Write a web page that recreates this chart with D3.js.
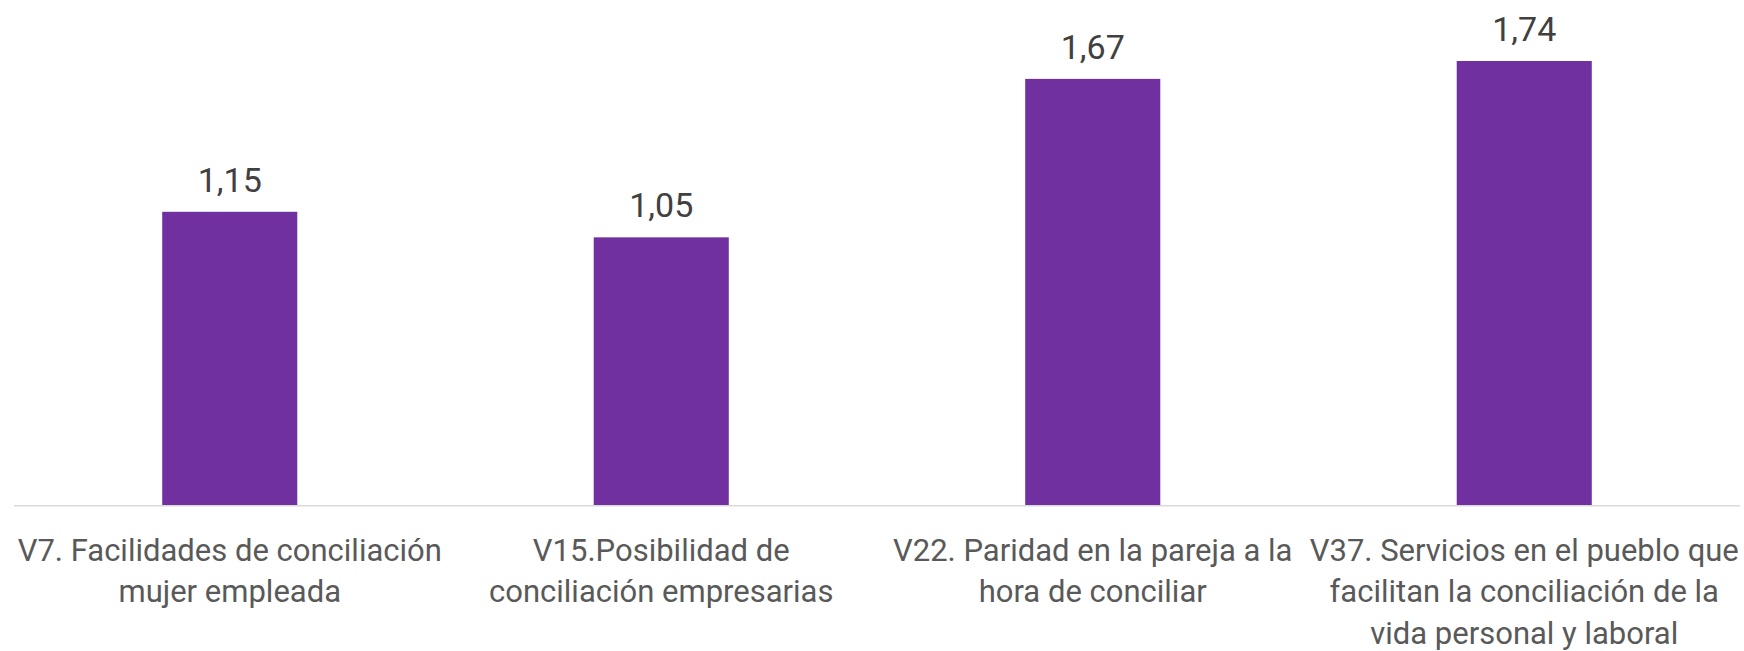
<!DOCTYPE html>
<html><head><meta charset="utf-8">
<script src="https://cdn.jsdelivr.net/npm/d3@7"></script>
<style>body{margin:0;background:#fff;}svg{display:block;}</style>
</head><body>
<svg id="chart" width="1744" height="651"></svg>
<script>
const categories = [
  "V7. Facilidades de conciliación\nmujer empleada",
  "V15.Posibilidad de\nconciliación empresarias",
  "V22. Paridad en la pareja a la\nhora de conciliar",
  "V37. Servicios en el pueblo que\nfacilitan la conciliación de la\nvida personal y laboral"
];
const values = [1.15, 1.05, 1.67, 1.74];
const valueLabels = ["1,15", "1,05", "1,67", "1,74"];

const svg = d3.select("#chart");
const left = 14, right = 1740, baseY = 505.7;
const x = d3.scaleBand().domain(categories).range([left, right]).paddingInner(0.687).paddingOuter(0.3435);
const y = d3.scaleLinear().domain([0, 1.74]).range([baseY, 61]);

svg.selectAll("rect.bar").data(values).join("rect")
  .attr("class", "bar")
  .attr("x", (d, i) => x(categories[i]))
  .attr("width", x.bandwidth())
  .attr("y", d => y(d))
  .attr("height", d => y(0) - y(d))
  .attr("fill", "#7030A0");

svg.append("line").attr("x1", left).attr("x2", right).attr("y1", baseY).attr("y2", baseY)
  .attr("stroke", "#d9d9d9").attr("stroke-width", 1.5);

svg.selectAll("text.val").data(values).join("text")
  .attr("class", "val")
  .attr("x", (d, i) => x(categories[i]) + x.bandwidth() / 2)
  .attr("y", d => y(d) - 20)
  .attr("text-anchor", "middle")
  .attr("font-family", "Roboto, sans-serif")
  .attr("font-size", 34)
  .attr("fill", "#404040")
  .text((d, i) => valueLabels[i]);

const axis = d3.axisBottom(x).tickSize(0).tickFormat(() => "");
const g = svg.append("g").attr("transform", `translate(0,${baseY})`).call(axis);
g.select(".domain").remove();
g.selectAll(".tick text").remove();
g.selectAll(".tick").each(function(d) {
  const t = d3.select(this).append("text")
    .attr("text-anchor", "middle")
    .attr("font-family", "Roboto, sans-serif")
    .attr("font-size", 31)
    .attr("fill", "#595959");
  d.split("\n").forEach((line, i) => {
    t.append("tspan").attr("x", 0).attr("y", 55 + i * 41.5).text(line);
  });
});
</script>
</body></html>
